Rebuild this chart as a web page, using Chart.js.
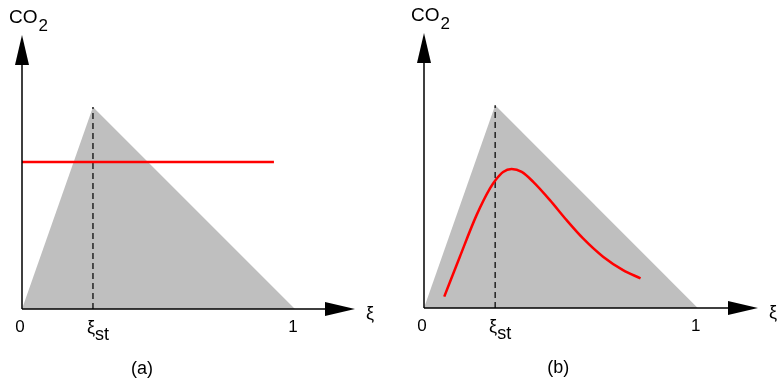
<!DOCTYPE html>
<html>
<head>
<meta charset="utf-8">
<script src="https://cdn.jsdelivr.net/npm/chart.js@4.4.0/dist/chart.umd.min.js"></script>
<style>
  html, body { margin: 0; padding: 0; background: #fff; }
  .panel { position: absolute; top: 0; width: 389px; height: 385px; }
  #panelA { left: 0; }
  #panelB { left: 389px; }
</style>
</head>
<body>
<div class="panel" id="panelA"><canvas id="chartA" width="389" height="385"></canvas></div>
<div class="panel" id="panelB"><canvas id="chartB" width="389" height="385"></canvas></div>
<script>
// ---- DATA ----
const xiSt = 0.26;

// mixing-limited region (triangle under the two linear limits)
const limitX = [0, xiSt, 1];
const limitY = [0, 1, 0];

// (a) uniform CO2
const flatX = [0, 0.923];
const flatY = [0.728, 0.728];

// (b) CO2 against mixture fraction
const curveX = [0.074, 0.131, 0.192, 0.241, 0.263, 0.289, 0.320, 0.357, 0.399, 0.460, 0.521, 0.581, 0.654, 0.727, 0.791];
const curveY = [0.056, 0.253, 0.458, 0.590, 0.634, 0.671, 0.685, 0.671, 0.622, 0.532, 0.433, 0.343, 0.253, 0.187, 0.146];

const tickValues = [0, xiSt, 1];
const tickLabels = ['0', 'ξ|st', '1'];

const FONT = '"Liberation Sans", Arial, sans-serif';

const zip = (xs, ys) => xs.map((x, i) => ({ x, y: ys[i] }));

// ---- AXES, ARROWS AND LABELS ----
const axesArrows = {
  id: 'axesArrows',
  afterDatasetsDraw(chart, args, opts) {
    const { ctx } = chart;
    const { x, y } = chart.scales;
    const x0 = x.getPixelForValue(0);
    const y0 = y.getPixelForValue(0);
    const xEnd = x.getPixelForValue(x.max);
    const yEnd = y.getPixelForValue(y.max);
    const head = 30, half = 7;

    ctx.save();
    ctx.strokeStyle = '#000';
    ctx.fillStyle = '#000';
    ctx.lineWidth = 1.5;
    ctx.beginPath();
    ctx.moveTo(x0, y0); ctx.lineTo(xEnd - head, y0);
    ctx.moveTo(x0, y0); ctx.lineTo(x0, yEnd + head);
    ctx.stroke();

    ctx.beginPath();
    ctx.moveTo(xEnd, y0);
    ctx.lineTo(xEnd - head, y0 - half);
    ctx.lineTo(xEnd - head, y0 + half);
    ctx.closePath();
    ctx.fill();

    ctx.beginPath();
    ctx.moveTo(x0, yEnd);
    ctx.lineTo(x0 - half, yEnd + head);
    ctx.lineTo(x0 + half, yEnd + head);
    ctx.closePath();
    ctx.fill();

    // y axis title: CO2
    ctx.textBaseline = 'alphabetic';
    ctx.textAlign = 'left';
    ctx.font = '19px ' + FONT;
    ctx.fillText('CO', x0 - 13, yEnd - 12);
    const coW = ctx.measureText('CO').width;
    ctx.font = '17px ' + FONT;
    ctx.fillText('2', x0 - 12 + coW, yEnd - 4);

    // x axis title
    ctx.font = '18px ' + FONT;
    ctx.fillText('ξ', xEnd + 11, y0 + 10);

    // tick labels
    tickValues.forEach((v, i) => {
      const px = x.getPixelForValue(v);
      const [main, sub] = tickLabels[i].split('|');
      if (sub) {
        ctx.textAlign = 'right';
        ctx.font = '18px ' + FONT;
        ctx.fillText(main, px + 2, y0 + 24);
        ctx.textAlign = 'left';
        ctx.font = '18px ' + FONT;
        ctx.fillText(sub, px + 2, y0 + 31);
      } else {
        ctx.textAlign = 'center';
        ctx.font = '17px ' + FONT;
        ctx.fillText(main, px - 2, y0 + 23);
      }
    });

    // panel caption
    ctx.textAlign = 'center';
    ctx.font = '18px ' + FONT;
    ctx.fillText(opts.caption, x.getPixelForValue(opts.captionAt), y0 + 65);
    ctx.restore();
  }
};

const limitSet = () => ({
  data: zip(limitX, limitY),
  fill: 'origin',
  backgroundColor: '#bfbfbf',
  borderWidth: 0,
  pointRadius: 0,
  tension: 0,
  order: 3
});

const stLine = () => ({
  data: zip([xiSt, xiSt], [0, 1]),
  borderColor: '#222',
  borderWidth: 1.5,
  borderDash: [6, 4],
  pointRadius: 0,
  fill: false,
  order: 2
});

const makePanel = (id, redSet, padding, caption, captionAt) => new Chart(document.getElementById(id), {
  type: 'line',
  data: { datasets: [limitSet(), stLine(), redSet] },
  options: {
    responsive: false,
    animation: false,
    events: [],
    layout: { padding },
    plugins: {
      legend: { display: false },
      tooltip: { enabled: false },
      axesArrows: { caption, captionAt }
    },
    scales: {
      x: { type: 'linear', min: 0, max: 1.22, display: false },
      y: { min: 0, max: 1.356, display: false }
    }
  },
  plugins: [axesArrows]
});

makePanel('chartA', {
  data: zip(flatX, flatY),
  borderColor: '#ff0000',
  borderWidth: 2.5,
  pointRadius: 0,
  fill: false,
  order: 1
}, { left: 22, right: 34, top: 35, bottom: 76 }, '(a)', 0.44);

makePanel('chartB', {
  data: zip(curveX, curveY),
  borderColor: '#ff0000',
  borderWidth: 2.5,
  pointRadius: 0,
  fill: false,
  cubicInterpolationMode: 'monotone',
  borderCapStyle: 'butt',
  order: 1
}, { left: 35, right: 20, top: 33, bottom: 77 }, '(b)', 0.49);
</script>
</body>
</html>
